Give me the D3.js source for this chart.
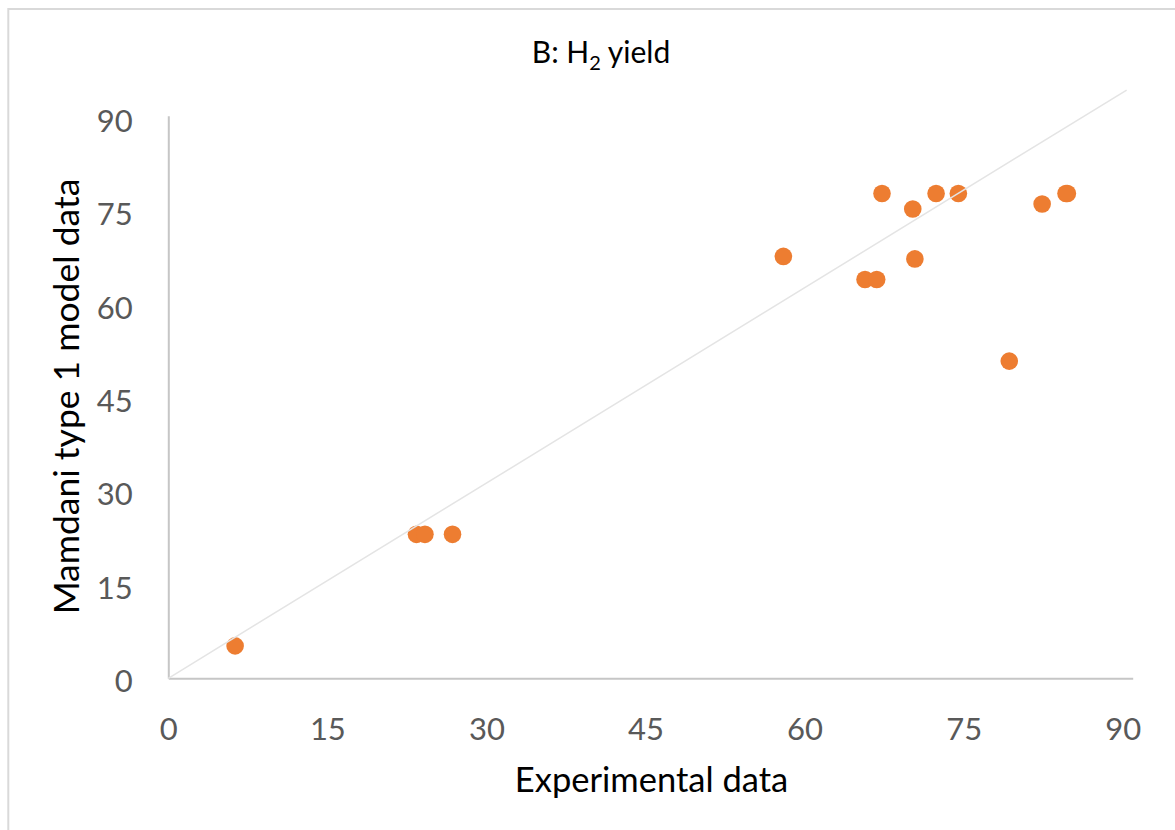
<!DOCTYPE html>
<html>
<head>
<meta charset="utf-8">
<script src="https://cdn.jsdelivr.net/npm/d3@7"></script>
<style>
  html, body { margin: 0; padding: 0; background: #fff; }
  svg { display: block; }
</style>
</head>
<body>
<div id="chart"></div>
<script>
// ---- data ----
const chartTitle = "B: H";
const chartTitleSub = "2";
const chartTitleEnd = " yield";
const xTitle = "Experimental data";
const yTitle = "Mamdani type 1 model data";

const experimental = [6.3, 23.4, 24.2, 26.8, 58.0, 65.7, 66.8, 67.3, 70.2, 70.4, 72.4, 74.5, 79.3, 82.4, 84.65, 84.78];
const mamdani      = [5.2, 23.1, 23.1, 23.1, 67.7, 64.0, 64.0, 77.8, 75.3, 67.3, 77.8, 77.8, 50.9, 76.1, 77.8, 77.8];

const xTicks = [0, 15, 30, 45, 60, 75, 90];
const yTicks = [0, 15, 30, 45, 60, 75, 90];

// reference line endpoints (data units)
const refLineX = [0, 90.37];
const refLineY = [0, 94.4];

// ---- layout ----
const W = 1175, H = 830;
const fontFam = "Lato, 'Open Sans', 'DejaVu Sans', sans-serif";

const svg = d3.select("#chart").append("svg")
  .attr("width", W).attr("height", H);

svg.append("rect").attr("x", 0).attr("y", 0).attr("width", W).attr("height", H).attr("fill", "#fff");
// chart border (only top/left visible in reference)
svg.append("rect")
  .attr("x", 8.3).attr("y", 9).attr("width", W + 20).attr("height", H + 20)
  .attr("fill", "none").attr("stroke", "#d9d9d9").attr("stroke-width", 2);

const x = d3.scaleLinear().domain([0, 90.94]).range([168.3, 1132.7]);
const y = d3.scaleLinear().domain([0, 90.28]).range([678.3, 115.7]);

// axes
const xAxis = d3.axisBottom(x).tickValues(xTicks).tickSize(0).tickPadding(0).tickFormat(d3.format("d"));
const yAxis = d3.axisLeft(y).tickValues(yTicks).tickSize(0).tickPadding(0).tickFormat(d3.format("d"));

const gx = svg.append("g").attr("transform", `translate(0,${y(0)})`).call(xAxis);
const gy = svg.append("g").attr("transform", `translate(${x(0)},0)`).call(yAxis);

[gx, gy].forEach(g => {
  g.select(".domain").attr("stroke", "#c6c6c6").attr("stroke-width", 2);
  g.selectAll("text")
    .attr("fill", "#595959")
    .style("font-family", fontFam)
    .style("font-size", "31px");
});
gx.selectAll("text").attr("dy", null).attr("y", 61.5);
gy.selectAll("text").attr("dy", null).attr("x", -35.6).attr("y", 13.6);

// points
svg.append("g").selectAll("circle")
  .data(experimental.map((v, i) => [v, mamdani[i]]))
  .join("circle")
  .attr("cx", d => x(d[0]))
  .attr("cy", d => y(d[1]))
  .attr("r", 8.8)
  .attr("fill", "#ED7D31");

// reference line (drawn over points as in reference)
svg.append("line")
  .attr("x1", x(refLineX[0])).attr("y1", y(refLineY[0]))
  .attr("x2", x(refLineX[1])).attr("y2", y(refLineY[1]))
  .attr("stroke", "#e4e4e4").attr("stroke-width", 1.5);

// title
const t = svg.append("text")
  .attr("x", 601).attr("y", 63)
  .attr("text-anchor", "middle")
  .attr("fill", "#000")
  .style("font-family", fontFam)
  .style("font-size", "30px");
t.append("tspan").text(chartTitle);
t.append("tspan").attr("dy", 7).style("font-size", "20px").text(chartTitleSub);
t.append("tspan").attr("dy", -7).text(chartTitleEnd);

// axis titles
svg.append("text")
  .attr("x", 651.5).attr("y", 792)
  .attr("text-anchor", "middle")
  .attr("fill", "#000")
  .style("font-family", fontFam)
  .style("font-size", "34.5px")
  .text(xTitle);

svg.append("text")
  .attr("transform", `translate(79,396.5) rotate(-90)`)
  .attr("text-anchor", "middle")
  .attr("fill", "#000")
  .style("font-family", fontFam)
  .style("font-size", "35.5px")
  .text(yTitle);
</script>
</body>
</html>
